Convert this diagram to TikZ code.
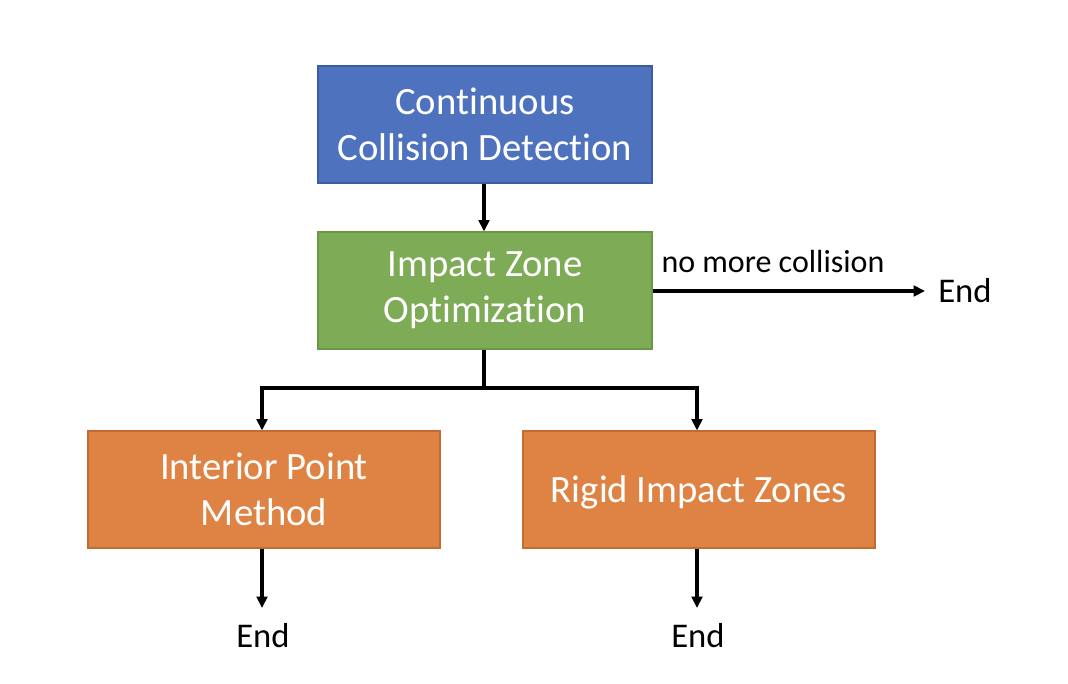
\documentclass[tikz,border=0pt]{standalone}
\usepackage{fontspec}
\setmainfont[Ligatures={NoCommon,NoContextual,NoRequired}]{Carlito}
\usetikzlibrary{arrows.meta,positioning}
\newcommand{\nolig}{t\kern0pt i}
\definecolor{bluefill}{HTML}{4E72BE}
\definecolor{blueline}{HTML}{3B5C9E}
\definecolor{greenfill}{HTML}{7DAB56}
\definecolor{greenline}{HTML}{6B9847}
\definecolor{orangefill}{HTML}{DF8344}
\definecolor{orangeline}{HTML}{C26C32}
\tikzset{
  boxtext/.style={text=white, font=\fontsize{29}{34.5}\selectfont},
  procbox/.style={draw=#1line, fill=#1fill, line width=0.8pt, minimum width=334*0.75pt, minimum height=117*0.75pt, inner sep=0pt, align=center, boxtext},
  widebox/.style={procbox=#1, minimum width=352*0.75pt},
  endlabel/.style={font=\fontsize{26}{30}\selectfont, inner sep=0pt},
  conn/.style={line width=2.6pt, -{Triangle[length=8.5pt,width=8pt]}},
}
\begin{document}
\begin{tikzpicture}[x=0.75pt,y=-0.75pt]
\useasboundingbox (0,0) rectangle (1068,684);
\node[procbox=blue] (ccd) at (485,124.5) {Con\nolig nuous\\Collision Detec\nolig on};
\node[procbox=green] (izo) at (485,290.5) {Impact Zone\\Op\nolig miza\nolig on};
\node[widebox=orange] (ipm) at (264,489.5) {Interior Point\\Method};
\node[widebox=orange] (riz) at (699,489.5) {};
\node[boxtext, inner sep=0pt] (riztext) at (699,492) {Rigid Impact Zones};
\node[endlabel] (end1) at (965,291) {End};
\node[endlabel] (end2) at (263,636) {End};
\node[endlabel] (end3) at (698,636) {End};
\node[font=\fontsize{24}{28}\selectfont, inner sep=0pt] (lbl) at (773,262) {no more collision};
\coordinate (split) at (484,388);
\draw[conn] (ccd.south -| 484,0) -- (izo.north -| 484,0);
\draw[conn] (izo.east |- 0,291) -- (end1.west -| 925,0);
\draw[line width=2.6pt] (izo.south -| split) -- (split);
\draw[conn] (split) -| (ipm.north -| 262,0);
\draw[conn] (split) -| (riz.north -| 697,0);
\draw[conn] (ipm.south -| 262,0) -- (262,608) coordinate (e2top);
\draw[conn] (riz.south -| 697,0) -- (697,608) coordinate (e3top);
\end{tikzpicture}
\end{document}
